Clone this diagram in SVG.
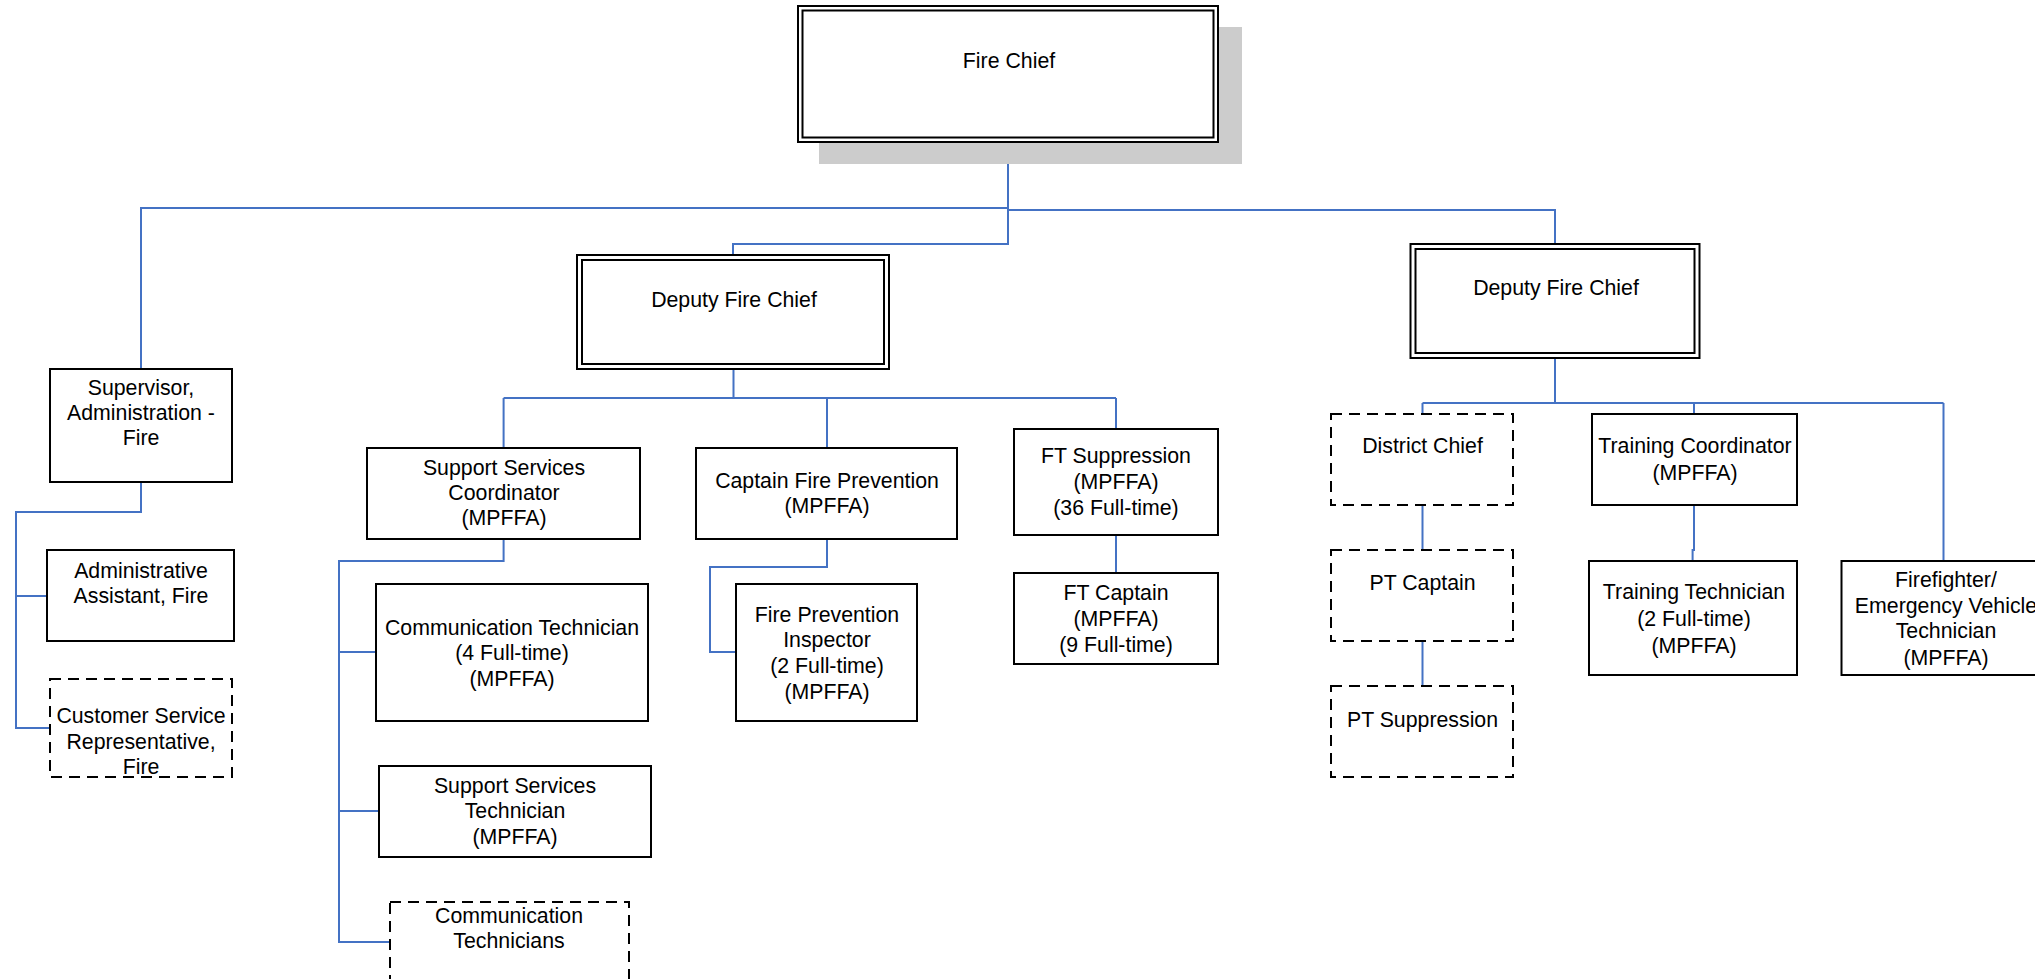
<svg xmlns="http://www.w3.org/2000/svg" width="2035" height="979" viewBox="0 0 2035 979">
<style>
.box{fill:#fff;stroke:#000;stroke-width:2}
.dash{fill:#fff;stroke:#000;stroke-width:2;stroke-dasharray:11,7}
.conn{fill:none;stroke:#4472C4;stroke-width:2}
text{font-family:"Liberation Sans",Arial,sans-serif;font-size:21.3px;fill:#000;text-anchor:middle}
</style>
<rect x="0" y="0" width="2035" height="979" fill="#fff"/>
<g id="connectors">
<path class="conn" d="M1008,142 V244 H733 V255"/>
<path class="conn" d="M1008,208 H141 V369"/>
<path class="conn" d="M1008,210 H1555 V244"/>
<path class="conn" d="M141,482 V512 H16 V728 H50 M16,596 H47"/>
<path class="conn" d="M733.5,369 V398 M503.6,398 H1116 M503.6,398 V448 M827,398 V448 M1116,398 V429"/>
<path class="conn" d="M503.6,539 V561 H339 V942 H390 M339,652 H376 M339,811 H379"/>
<path class="conn" d="M827,539 V567 H710 V652 H736"/>
<path class="conn" d="M1116,535 V573"/>
<path class="conn" d="M1555,358 V403 M1422.5,403 H1943.5 M1422.5,403 V414 M1694,403 V414 M1943.5,403 V561"/>
<path class="conn" d="M1422.5,505 V550 M1422.5,641 V686"/>
<path class="conn" d="M1694,505 V550 H1692.6 V561"/>
</g>
<g id="fire-chief">
<rect x="819" y="27" width="423" height="137" fill="#cccccc"/>
<rect class="box" x="798" y="6" width="420" height="136" stroke-width="2.5"/>
<rect class="box" x="802.5" y="10.5" width="411" height="127"/>
<text x="1009" y="68">Fire Chief</text>
</g>
<g id="deputy-left">
<rect class="box" x="577" y="255" width="312" height="114"/>
<rect class="box" x="582" y="260" width="302" height="104"/>
<text x="734" y="307">Deputy Fire Chief</text>
</g>
<g id="deputy-right">
<rect class="box" x="1410.5" y="244" width="289" height="114"/>
<rect class="box" x="1415.5" y="249" width="279" height="104"/>
<text x="1556" y="295">Deputy Fire Chief</text>
</g>
<g id="supervisor-admin">
<rect class="box" x="50" y="369" width="182" height="113"/>
<text x="141" y="395"><tspan x="141">Supervisor,</tspan><tspan x="141" dy="25">Administration -</tspan><tspan x="141" dy="25">Fire</tspan></text>
</g>
<g id="admin-assistant">
<rect class="box" x="47" y="550" width="187" height="91"/>
<text x="141" y="578"><tspan x="141">Administrative</tspan><tspan x="141" dy="25">Assistant, Fire</tspan></text>
</g>
<g id="customer-service">
<rect class="dash" x="50" y="679" width="182" height="98"/>
<text x="141" y="723"><tspan x="141">Customer Service</tspan><tspan x="141" dy="26">Representative,</tspan><tspan x="141" dy="25">Fire</tspan></text>
</g>
<g id="support-services-coordinator">
<rect class="box" x="367" y="448" width="273" height="91"/>
<text x="504" y="475"><tspan x="504">Support Services</tspan><tspan x="504" dy="25">Coordinator</tspan><tspan x="504" dy="25">(MPFFA)</tspan></text>
</g>
<g id="communication-technician">
<rect class="box" x="376" y="584" width="272" height="137"/>
<text x="512" y="635"><tspan x="512">Communication Technician</tspan><tspan x="512" dy="25">(4 Full-time)</tspan><tspan x="512" dy="26">(MPFFA)</tspan></text>
</g>
<g id="support-services-technician">
<rect class="box" x="379" y="766" width="272" height="91"/>
<text x="515" y="793"><tspan x="515">Support Services</tspan><tspan x="515" dy="25">Technician</tspan><tspan x="515" dy="26">(MPFFA)</tspan></text>
</g>
<g id="communication-technicians">
<rect class="dash" x="390" y="902" width="239" height="100"/>
<text x="509" y="923"><tspan x="509">Communication</tspan><tspan x="509" dy="25">Technicians</tspan></text>
</g>
<g id="captain-fire-prevention">
<rect class="box" x="696" y="448" width="261" height="91"/>
<text x="827" y="488"><tspan x="827">Captain Fire Prevention</tspan><tspan x="827" dy="25">(MPFFA)</tspan></text>
</g>
<g id="fire-prevention-inspector">
<rect class="box" x="736" y="584" width="181" height="137"/>
<text x="827" y="622"><tspan x="827">Fire Prevention</tspan><tspan x="827" dy="25">Inspector</tspan><tspan x="827" dy="26">(2 Full-time)</tspan><tspan x="827" dy="26">(MPFFA)</tspan></text>
</g>
<g id="ft-suppression">
<rect class="box" x="1014" y="429" width="204" height="106"/>
<text x="1116" y="463"><tspan x="1116">FT Suppression</tspan><tspan x="1116" dy="26">(MPFFA)</tspan><tspan x="1116" dy="26">(36 Full-time)</tspan></text>
</g>
<g id="ft-captain">
<rect class="box" x="1014" y="573" width="204" height="91"/>
<text x="1116" y="600"><tspan x="1116">FT Captain</tspan><tspan x="1116" dy="26">(MPFFA)</tspan><tspan x="1116" dy="26">(9 Full-time)</tspan></text>
</g>
<g id="district-chief">
<rect class="dash" x="1331" y="414" width="182" height="91"/>
<text x="1422.5" y="453">District Chief</text>
</g>
<g id="pt-captain">
<rect class="dash" x="1331" y="550" width="182" height="91"/>
<text x="1422.5" y="590">PT Captain</text>
</g>
<g id="pt-suppression">
<rect class="dash" x="1331" y="686" width="182" height="91"/>
<text x="1422.5" y="727">PT Suppression</text>
</g>
<g id="training-coordinator">
<rect class="box" x="1592" y="414" width="205" height="91"/>
<text x="1695" y="453"><tspan x="1695">Training Coordinator</tspan><tspan x="1695" dy="27">(MPFFA)</tspan></text>
</g>
<g id="training-technician">
<rect class="box" x="1589" y="561" width="208" height="114"/>
<text x="1694" y="599"><tspan x="1694">Training Technician</tspan><tspan x="1694" dy="27">(2 Full-time)</tspan><tspan x="1694" dy="27">(MPFFA)</tspan></text>
</g>
<g id="firefighter-evt">
<rect class="box" x="1841.5" y="561" width="200" height="114"/>
<text x="1946" y="587"><tspan x="1946">Firefighter/</tspan><tspan x="1946" dy="26">Emergency Vehicle</tspan><tspan x="1946" dy="25">Technician</tspan><tspan x="1946" dy="27">(MPFFA)</tspan></text>
</g>
</svg>
